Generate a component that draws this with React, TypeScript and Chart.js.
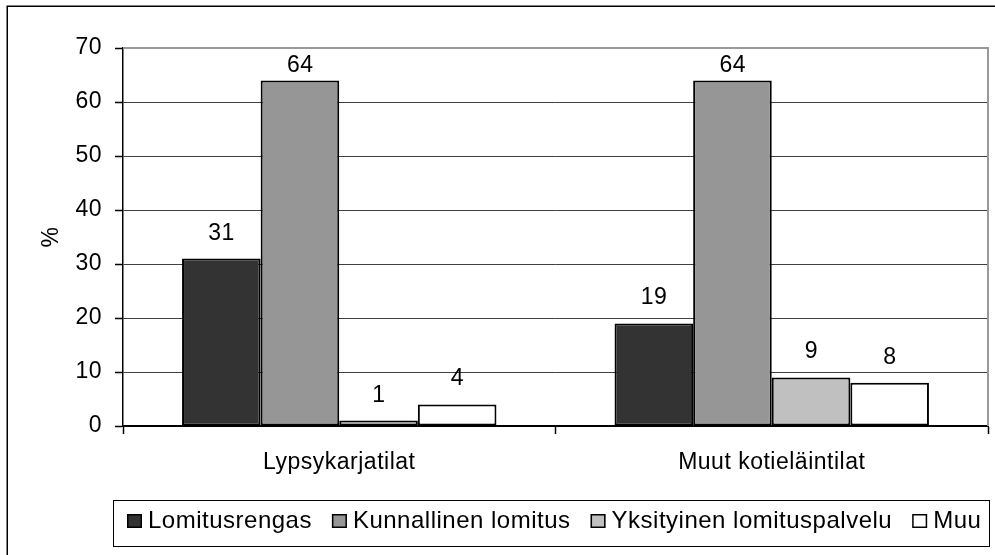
import React, { useEffect, useRef } from 'react';
import { Chart, registerables } from 'chart.js';

Chart.register(...registerables);

const categories = ['Lypsykarjatilat', 'Muut kotieläintilat'];
const seriesNames = ['Lomitusrengas', 'Kunnallinen lomitus', 'Yksityinen lomituspalvelu', 'Muu'];
const lomitusrengas = [31, 19];
const kunnallinenLomitus = [64, 64];
const yksityinenLomituspalvelu = [1, 9];
const muu = [4, 8];
const seriesColors = ['#333333', '#969696', '#c0c0c0', '#ffffff'];
const yMin = 0;
const yMax = 70;
const yStep = 10;
const yTitle = '%';

const FONT = "'Liberation Sans', Arial, sans-serif";
const SPACING = '0.5px';
const FS = 23;

const framePlugin = {
  id: 'frameAndLabels',
  beforeLayout(chart: any) {
    chart.ctx.letterSpacing = SPACING;
  },
  beforeDraw(chart: any) {
    chart.ctx.letterSpacing = SPACING;
  },
  afterDraw(chart: any) {
    const ctx = chart.ctx;
    const area = chart.chartArea;
    ctx.save();
    ctx.letterSpacing = SPACING;
    // plot area border (top and right, gray)
    ctx.strokeStyle = '#999999';
    ctx.lineWidth = 2;
    ctx.beginPath();
    ctx.moveTo(area.left, area.top);
    ctx.lineTo(area.right, area.top);
    ctx.lineTo(area.right, area.bottom);
    ctx.stroke();

    // data labels
    ctx.fillStyle = '#000';
    ctx.font = `${FS}px ${FONT}`;
    ctx.textAlign = 'center';
    ctx.textBaseline = 'alphabetic';
    chart.data.datasets.forEach((ds: any, i: number) => {
      const meta = chart.getDatasetMeta(i);
      meta.data.forEach((el: any, j: number) => {
        const y = Math.max(el.y - 19, area.top + 24);
        ctx.fillText(String(ds.data[j]), el.x + 0.25, y);
      });
    });

    // legend
    const lx0 = 113.5, ly0 = 500.5, lx1 = 989.5, ly1 = 546.5;
    ctx.strokeStyle = '#000';
    ctx.lineWidth = 1;
    ctx.strokeRect(lx0, ly0, lx1 - lx0, ly1 - ly0);
    ctx.font = `24px ${FONT}`;
    ctx.textAlign = 'left';
    let x = 127;
    const boxTop = 514;
    chart.data.datasets.forEach((ds: any) => {
      ctx.fillStyle = ds.backgroundColor;
      ctx.fillRect(x, boxTop, 15, 14);
      ctx.strokeStyle = '#000';
      ctx.lineWidth = 1.5;
      ctx.strokeRect(x + 0.75, boxTop + 0.75, 13.5, 12.5);
      ctx.fillStyle = '#000';
      const tx = x + 21;
      ctx.fillText(ds.label, tx, 528);
      const w = ctx.measureText(ds.label).width;
      x = tx + w + 20;
    });

    // outer frame
    ctx.strokeStyle = '#000';
    ctx.lineWidth = 1.5;
    ctx.strokeRect(7.25, 6.25, 1100, 1100);
    ctx.restore();
  },
};

export default function App() {
  const ref = useRef<HTMLCanvasElement>(null);
  useEffect(() => {
    if (!ref.current) return;
    const seriesData = [lomitusrengas, kunnallinenLomitus, yksityinenLomituspalvelu, muu];
    const chart = new Chart(ref.current, {
      type: 'bar',
      data: {
        labels: categories,
        datasets: seriesNames.map((name, i) => ({
          label: name,
          data: seriesData[i],
          backgroundColor: seriesColors[i],
          borderColor: '#000000',
          borderWidth: 2,
          borderSkipped: false,
          categoryPercentage: 0.727,
          barPercentage: 1,
        })),
      },
      options: {
        responsive: false,
        animation: false,
        devicePixelRatio: 1,
        layout: { padding: { top: 48, right: 7, bottom: 0, left: 0 } },
        plugins: {
          legend: { display: false },
          tooltip: { enabled: false },
          title: { display: false },
        },
        scales: {
          x: {
            afterFit: (s: any) => { s.height = 129; },
            grid: {
              offset: true,
              drawOnChartArea: false,
              drawTicks: true,
              tickLength: 8,
              tickColor: '#000',
              tickWidth: 1.5,
            },
            border: { display: true, color: '#000', width: 2 },
            ticks: {
              color: '#000',
              font: { family: FONT, size: FS },
              padding: 15,
              maxRotation: 0,
            },
          },
          y: {
            min: yMin,
            max: yMax,
            afterFit: (s: any) => { s.width = 123; },
            grid: {
              color: (c: any) => (c.tick && c.tick.value === yMax ? 'rgba(0,0,0,0)' : '#404040'),
              lineWidth: 1,
              drawTicks: true,
              tickLength: 8,
              tickColor: '#000',
              tickWidth: 1.5,
            },
            border: { display: true, color: '#000', width: 1.5 },
            ticks: {
              stepSize: yStep,
              color: '#000',
              font: { family: FONT, size: FS },
              padding: 13,
            },
            title: {
              display: true,
              text: yTitle,
              color: '#000',
              font: { family: FONT, size: FS },
              padding: { top: 38, bottom: 0 },
            },
          },
        },
      },
      plugins: [framePlugin],
    });
    return () => chart.destroy();
  }, []);
  return (
    <div style={{ position: 'fixed', left: 0, top: 0, width: 995, height: 555, background: '#fff' }}>
      <canvas ref={ref} width={995} height={555} style={{ display: 'block', width: 995, height: 555 }} />
    </div>
  );
}
